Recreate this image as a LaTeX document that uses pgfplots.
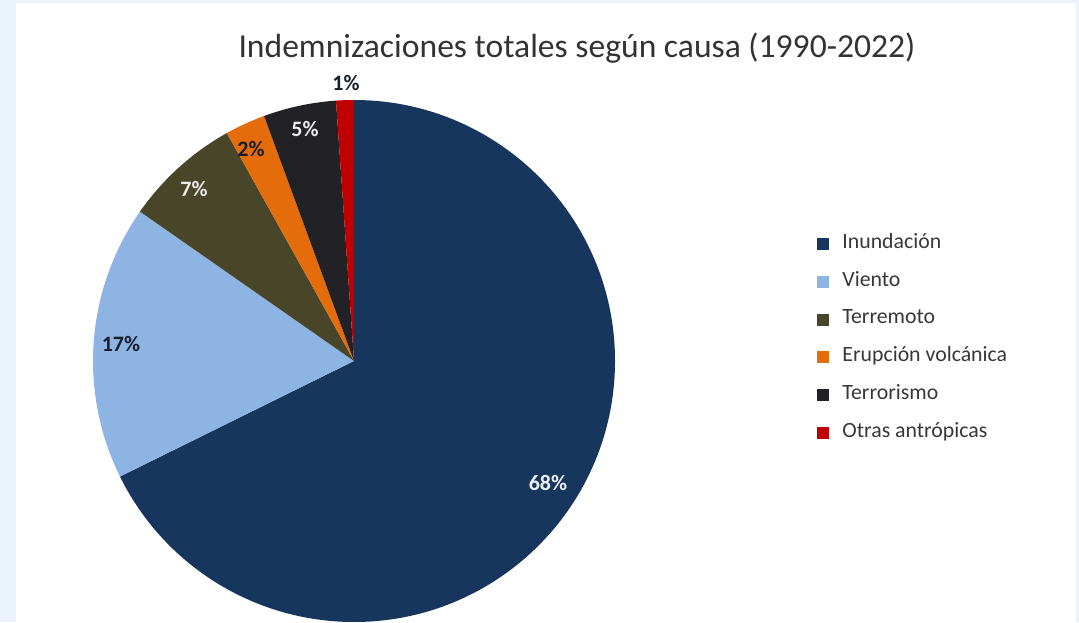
\documentclass[border=0pt]{standalone}
\usepackage{pgfplots}
\usepackage{pgfplotstable}
\pgfplotsset{compat=1.18}
\usepackage{fontspec}
\setmainfont{Carlito}

\definecolor{c0}{RGB}{23,54,93}
\definecolor{c1}{RGB}{142,180,227}
\definecolor{c2}{RGB}{73,69,41}
\definecolor{c3}{RGB}{228,108,10}
\definecolor{c4}{RGB}{34,34,38}
\definecolor{c5}{RGB}{192,0,0}
\definecolor{bgblue}{RGB}{234,243,251}
\definecolor{darktxt}{RGB}{25,30,45}

% share of total indemnities (%), clockwise from 12 o'clock
\pgfplotstableread{
pct
67.7
17.0
7.2
2.5
4.5
1.1
}\piedata

\begin{document}
\begin{tikzpicture}
\begin{axis}[
  width=1079pt, height=622pt, scale only axis,
  xmin=0, xmax=1079, ymin=0, ymax=622,
  axis lines=none, clip=true,
  legend image code/.code={\fill[#1] (0pt,-5pt) rectangle (11pt,6pt); \path[draw=none,fill=none] (0pt,0pt) -- (24pt,0pt);},
  legend style={at={(axis cs:817,387)}, anchor=north west, draw=none, fill=none,
    inner sep=0pt, row sep=19.8pt, cells={anchor=west},
    nodes={inner sep=1pt, text height=12pt, text depth=4pt,
      font=\fontsize{21.8}{24}\selectfont, text=black!78}},
]
% background
\fill[bgblue] (axis cs:0,0) rectangle (axis cs:1079,622);
\fill[white] (axis cs:16,0) rectangle (axis cs:1076,619);

\xdef\cum{0}
\pgfplotsinvokeforeach{0,...,5}{
  \pgfplotstablegetelem{#1}{pct}\of\piedata
  \let\v\pgfplotsretval
  \pgfmathsetmacro\a{90-3.6*\cum}
  \pgfmathsetmacro\b{90-3.6*(\cum+\v)}
  \pgfmathsetmacro\newcum{\cum+\v}
  \xdef\cum{\newcum}
  \edef\temp{\noexpand\fill[c#1] (axis cs:354,261) -- ++(\a:261pt) arc[start angle=\a, end angle=\b, radius=261pt] -- cycle;}
  \temp
}

\addlegendimage{c0}\addlegendentry{Inundación}
\addlegendimage{c1}\addlegendentry{Viento}
\addlegendimage{c2}\addlegendentry{Terremoto}
\addlegendimage{c3}\addlegendentry{Erupción volcánica}
\addlegendimage{c4}\addlegendentry{Terrorismo}
\addlegendimage{c5}\addlegendentry{Otras antrópicas}

\node[font=\fontsize{33.6}{38}\selectfont, text=black!80] at (axis cs:577,574) {Indemnizaciones totales según causa (1990-2022)};

\begin{scope}[font=\fontsize{22}{24}\selectfont\bfseries]
\node[text=white!92!c0] at (axis cs:548,139) {68\%};
\node[text=darktxt] at (axis cs:121,278) {17\%};
\node[text=white!90!c2] at (axis cs:194,433) {7\%};
\node[text=darktxt] at (axis cs:251,473) {2\%};
\node[text=white!92!c4] at (axis cs:305,493) {5\%};
\node[text=darktxt] at (axis cs:346,539) {1\%};
\end{scope}
\end{axis}
\end{tikzpicture}
\end{document}
